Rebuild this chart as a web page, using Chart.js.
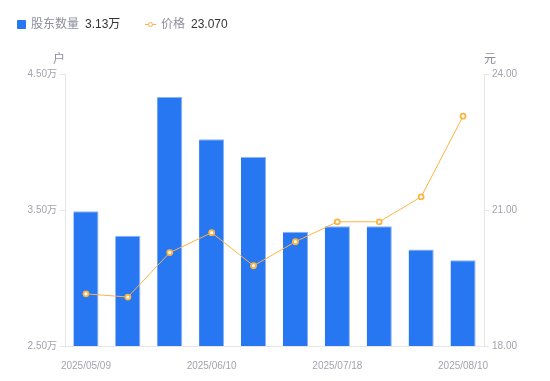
<!DOCTYPE html>
<html>
<head>
<meta charset="utf-8">
<script src="https://cdn.jsdelivr.net/npm/chart.js@4.4.1/dist/chart.umd.min.js"></script>
<style>
  html, body { margin: 0; padding: 0; background: #fff; }
  #wrap { position: relative; width: 550px; height: 381px; font-family: 'Liberation Sans', 'Noto Sans CJK SC', sans-serif; }
  canvas { position: absolute; left: 0; top: 0; }
  .leg { position: absolute; top: 16px; font-size: 12px; line-height: 16px; white-space: nowrap; }
  .name { color: #8e8e9c; }
  .val { color: #333; margin-left: 6px; }
  .sq { display: inline-block; width: 9px; height: 9px; background: #2776f2; border-radius: 1px; vertical-align: -1px; margin-right: 5px; }
  .ln { display: inline-block; position: relative; width: 11px; height: 9px; vertical-align: -1px; margin-right: 5px; }
  .ln:before { content: ''; position: absolute; left: 0; top: 4px; width: 11px; height: 1px; background: #fbb444; }
  .ln:after { content: ''; position: absolute; left: 2.5px; top: 1.5px; width: 3px; height: 3px; border: 1.5px solid #fbb444; border-radius: 50%; background: #fff; }
  .ttl { position: absolute; top: 49px; font-size: 12px; color: #8e8e9c; }
</style>
</head>
<body>
<div id="wrap">
  <canvas id="c" width="550" height="381"></canvas>
  <div class="leg" style="left:17px"><span class="sq"></span><span class="name">股东数量</span><span class="val" id="v1"></span></div>
  <div class="leg" style="left:145px"><span class="ln"></span><span class="name">价格</span><span class="val" id="v2"></span></div>
  <div class="ttl" style="left:53px">户</div>
  <div class="ttl" style="left:484px">元</div>
</div>
<script>
const categories = ['2025/05/09','2025/05/20','2025/05/30','2025/06/10','2025/06/20','2025/06/30','2025/07/18','2025/07/31','2025/08/05','2025/08/10'];
const holders = [3.49, 3.31, 4.33, 4.02, 3.89, 3.34, 3.38, 3.38, 3.21, 3.13]; // 万户
const prices = [19.15, 19.08, 20.06, 20.50, 19.77, 20.30, 20.74, 20.74, 21.29, 23.07];
const shownLabelIdx = [0, 3, 6, 9];
const leftTicks = [2.5, 3.5, 4.5];
const rightTicks = [18, 21, 24];

document.getElementById('v1').textContent = holders[holders.length-1].toFixed(2) + '万';
document.getElementById('v2').textContent = prices[prices.length-1].toFixed(3);

const tickColor = '#a3a3b1';
const lineGray = '#e6e6e6';
Chart.defaults.font.family = "'Liberation Sans', 'Noto Sans CJK SC', sans-serif";
Chart.defaults.font.size = 10;

new Chart(document.getElementById('c'), {
  data: {
    labels: categories,
    datasets: [
      {
        type: 'line', label: '价格', data: prices, yAxisID: 'y1',
        borderColor: '#fbb444', borderWidth: 1, backgroundColor: '#fff',
        pointRadius: 2.5, pointBorderWidth: 1.8, pointBorderColor: '#fbb444', pointBackgroundColor: '#fff',
        tension: 0, order: 0
      },
      {
        type: 'bar', label: '股东数量', data: holders, yAxisID: 'y',
        backgroundColor: '#2776f2', borderColor: '#8db4f6', borderWidth: {top:1,right:1,left:0,bottom:0},
        categoryPercentage: 1, barPercentage: 0.6, order: 1
      }
    ]
  },
  options: {
    responsive: false, animation: false,
    layout: { padding: { top: 74, left: 0, right: 0, bottom: 0 } },
    plugins: { legend: { display: false }, tooltip: { enabled: false } },
    scales: {
      x: {
        offset: true,
        grid: { display: false },
        border: { display: true, color: lineGray },
        ticks: {
          autoSkip: false, maxRotation: 0, color: tickColor, padding: 6,
          callback: (v, i) => shownLabelIdx.includes(i) ? categories[i] : ''
        },
        afterFit: s => { s.height = 35; }
      },
      y: {
        position: 'left', min: 2.5, max: 4.5,
        afterBuildTicks: s => { s.ticks = leftTicks.map(v => ({value: v})); },
        grid: { drawOnChartArea: false, tickLength: 5, color: lineGray },
        border: { display: true, color: lineGray },
        ticks: { color: tickColor, padding: 3, callback: v => v.toFixed(2) + '万' },
        afterFit: s => { s.width = 65; }
      },
      y1: {
        position: 'right', min: 18, max: 24,
        afterBuildTicks: s => { s.ticks = rightTicks.map(v => ({value: v})); },
        grid: { drawOnChartArea: false, tickLength: 5, color: lineGray },
        border: { display: true, color: lineGray },
        ticks: { color: tickColor, padding: 3, callback: v => v.toFixed(2) },
        afterFit: s => { s.width = 66; }
      }
    }
  }
});
</script>
</body>
</html>
